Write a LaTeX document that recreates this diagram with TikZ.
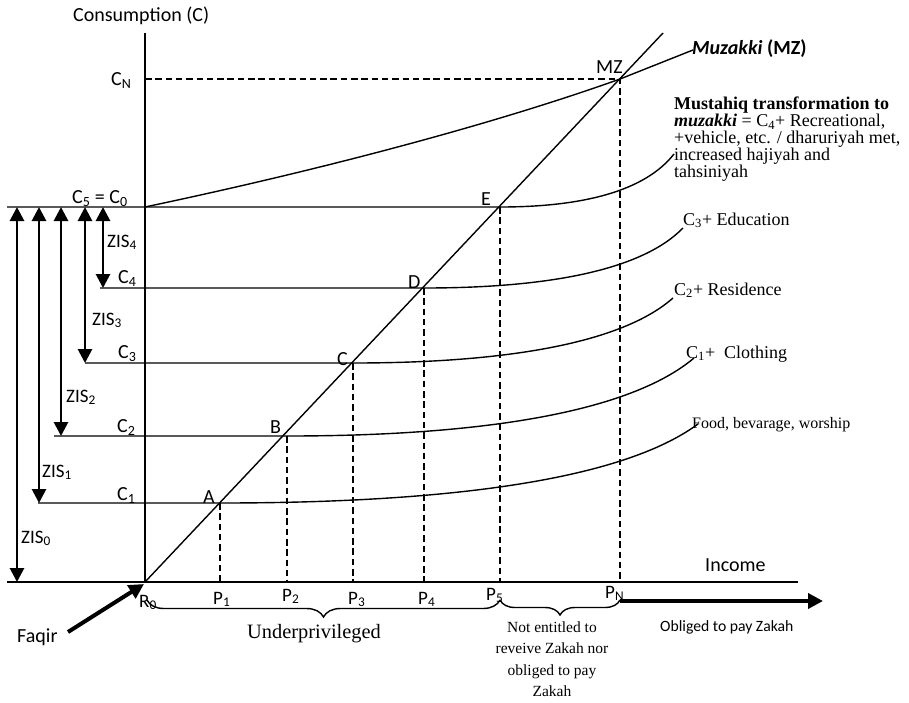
\documentclass[tikz,border=0pt]{standalone}
\usepackage{fontspec}
\setmainfont{Liberation Serif}
\newfontfamily\calib{Carlito}
\usetikzlibrary{arrows.meta,decorations.pathreplacing}
\begin{document}
\begin{tikzpicture}[x=1pt,y=-1pt,
  thinline/.style={line width=1.4pt},
  dline/.style={line width=2.5pt,dash pattern=on 6.5pt off 3.8pt},
  zis/.style={line width=2.8pt,{Triangle[width=14pt,length=14pt]}-{Triangle[width=14pt,length=14pt]}},
  bigarrow/.style={line width=4pt,-{Triangle[width=15pt,length=15pt]}},
  lab/.style={font=\calib\fontsize{20}{22}\selectfont,inner sep=0pt,anchor=base west},
  plab/.style={font=\calib\fontsize{19}{21}\selectfont,inner sep=0pt,anchor=base west},
  slab/.style={font=\fontsize{18}{20}\selectfont,inner sep=0pt,anchor=base west},
  brc/.style={thinline,decorate,decoration={brace,mirror,amplitude=17pt}}]
\useasboundingbox (0,0) rectangle (909,702);
% key points
\coordinate (O) at (145,582);
\coordinate (Ytop) at (145,33);
\coordinate (Xend) at (798,582);
\coordinate (Xleft) at (7,582);
\coordinate (A) at (220,503);
\coordinate (B) at (287,436);
\coordinate (C) at (353,363);
\coordinate (D) at (424,288);
\coordinate (E) at (500,207);
\coordinate (MZ) at (620,79);
\coordinate (DiagTop) at (663,33);
\coordinate (CN) at (145,79);
\coordinate (C0) at (145,207);
\coordinate (L0) at (7,207);
\coordinate (L4) at (100,288);
\coordinate (L3) at (85,363);
\coordinate (L2) at (54,436);
\coordinate (L1) at (38,503);
\coordinate (P1) at (220,582);
\coordinate (P2) at (287,582);
\coordinate (P3) at (353,582);
\coordinate (P4) at (424,582);
\coordinate (P5) at (500,582);
\coordinate (PN) at (620,582);
\coordinate (MZend) at (693,50);
\coordinate (Aend) at (698,424);
\coordinate (Bend) at (694,358);
\coordinate (Cend) at (673,298);
\coordinate (Dend) at (683,228);
\coordinate (Eend) at (674,154);
% axes
\draw[thinline] (Ytop) -- (O);
\draw[thinline] (Xleft) -- (Xend);
% diagonal
\draw[thinline] (O) -- (DiagTop);
% muzakki curve
\draw[thinline] (C0) .. controls (330,168) and (500,122) .. (MZ) -- (MZend);
% horizontal levels
\draw[thinline] (L0) -- (E) .. controls (583,207) and (645,191) .. (Eend);
\draw[thinline] (L4) -- (D) .. controls (549,288) and (642,270) .. (Dend);
\draw[thinline] (L3) -- (C) .. controls (507,363) and (622,343) .. (Cend);
\draw[thinline] (L2) -- (B) .. controls (483,436) and (630,412) .. (Bend);
\draw[thinline] (L1) -- (A) .. controls (449,503) and (622,480) .. (Aend);
% dashed
\draw[dline] (CN) -- (MZ) -- (PN);
\draw[dline] (A) -- (P1);
\draw[dline] (B) -- (P2);
\draw[dline] (C) -- (P3);
\draw[dline] (D) -- (P4);
\draw[dline] (E) -- (P5);
% ZIS arrows
\coordinate (Z0t) at (17,207); \coordinate (Z0b) at (17,582);
\coordinate (Z1t) at (39,207); \coordinate (Z1b) at (39,503);
\coordinate (Z2t) at (61,207); \coordinate (Z2b) at (61,436);
\coordinate (Z3t) at (85,207); \coordinate (Z3b) at (85,363);
\coordinate (Z4t) at (103,207); \coordinate (Z4b) at (103,288);
\draw[zis] (Z0t) -- (Z0b);
\draw[zis] (Z1t) -- (Z1b);
\draw[zis] (Z2t) -- (Z2b);
\draw[zis] (Z3t) -- (Z3b);
\draw[zis] (Z4t) -- (Z4b);
% big arrows
\coordinate (Fq) at (68,632);
\coordinate (Ofrom) at (620,601);
\coordinate (Oto) at (823,601);
\draw[bigarrow] (Fq) -- ([shift={(-1,2)}]O);
\draw[bigarrow] (Ofrom) -- (Oto);
% braces
\coordinate (Br0) at (147,600);
\coordinate (Br5) at (500,600);
\coordinate (BrN) at (620,600);
\draw[brc] (Br0) -- (Br5);
\draw[brc,decoration={amplitude=15pt}] (Br5) -- (BrN);
% labels
\node[lab] (tcons) at (73,21) {Consumption (C)};
\node[lab] (tcn) at (111,85) {C\textsubscript{N}};
\node[lab] (tc50) at (72,203) {C\textsubscript{5} = C\textsubscript{0}};
\node[lab] (tc4) at (118,283) {C\textsubscript{4}};
\node[lab] (tc3) at (118,358) {C\textsubscript{3}};
\node[lab] (tc2) at (117,432) {C\textsubscript{2}};
\node[lab] (tc1) at (117,500) {C\textsubscript{1}};
\node[plab] (tz4) at (107,247) {ZIS\textsubscript{4}};
\node[plab] (tz3) at (92,325) {ZIS\textsubscript{3}};
\node[plab] (tz2) at (66,402) {ZIS\textsubscript{2}};
\node[plab] (tz1) at (42,477) {ZIS\textsubscript{1}};
\node[plab] (tz0) at (21,543) {ZIS\textsubscript{0}};
\node[lab] (tfaqir) at (17,642) {Faqir};
\node[plab] (tr0) at (139,607) {R\textsubscript{0}};
\node[plab] (tp1) at (213,604) {P\textsubscript{1}};
\node[plab] (tp2) at (282,601) {P\textsubscript{2}};
\node[plab] (tp3) at (348,604) {P\textsubscript{3}};
\node[plab] (tp4) at (418,604) {P\textsubscript{4}};
\node[plab] (tp5) at (486,600) {P\textsubscript{5}};
\node[plab] (tpn) at (605,598) {P\textsubscript{N}};
\node[lab] (ta) at (203,503) {A};
\node[lab] (tb) at (270,433) {B};
\node[lab] (tc) at (337,365) {C};
\node[lab] (td) at (408,288) {D};
\node[lab] (te) at (481,205) {E};
\node[lab] (tmz) at (596,73) {MZ};
\node[lab,font=\calib\bfseries\fontsize{20}{22}\selectfont] (tmuz) at (692,54) {\textit{Muzakki} (MZ)};
\node[lab] (tinc) at (705,571) {Income};
\node[lab,font=\calib\fontsize{15.7}{18}\selectfont] (tobl) at (660,631) {Obliged to pay Zakah};
\node[lab,font=\fontsize{20.4}{22}\selectfont] (tund) at (247,638) {Underprivileged};
\node[inner sep=0pt,anchor=north,align=center,font=\fontsize{15.5}{21.3}\selectfont] (tnot) at (552,621.5)
  {Not entitled to\\reveive Zakah nor\\obliged to pay\\Zakah};
\node[inner sep=0pt,anchor=north west,align=left,font=\fontsize{18}{17}\selectfont] (tmus) at (674,97)
  {\textbf{Mustahiq transformation to}\\\textbf{\textit{muzakki}} = C\textsubscript{4}+ Recreational,\\+vehicle, etc. / dharuriyah met,\\increased hajiyah and\\tahsiniyah};
\node[slab] (ted) at (683,225) {C\textsubscript{3}+ Education};
\node[slab] (tres) at (674,295) {C\textsubscript{2}+ Residence};
\node[slab] (tclo) at (686,358) {C\textsubscript{1}+\ \ Clothing};
\node[slab,font=\fontsize{16}{18}\selectfont] (tfood) at (692,428) {Food, bevarage, worship};
\end{tikzpicture}
\end{document}
